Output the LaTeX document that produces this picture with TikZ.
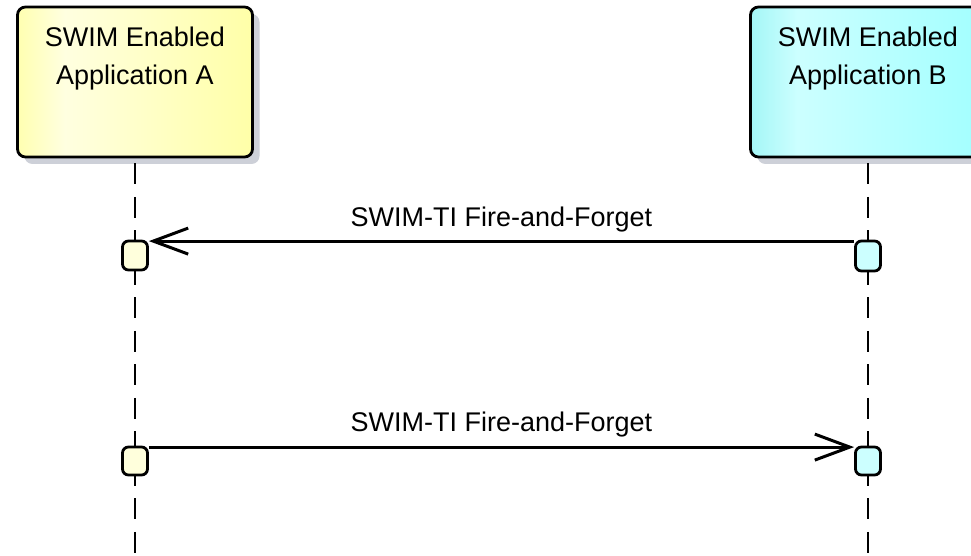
\documentclass[tikz,border=0pt]{standalone}
\usepackage{fontspec}
\setmainfont{Liberation Sans}
\usetikzlibrary{arrows.meta,shadows}

\definecolor{yelA}{HTML}{FFFFB0}
\definecolor{yelB}{HTML}{FFFFE0}
\definecolor{yelC}{HTML}{FFFFA8}
\definecolor{cyaA}{HTML}{A4F6F6}
\definecolor{cyaB}{HTML}{CCFFFF}
\definecolor{cyaC}{HTML}{A2FFFF}
\definecolor{actYel}{HTML}{FFFFDC}
\definecolor{actCya}{HTML}{CCFFFF}
\definecolor{shadowgrey}{HTML}{CDD0D8}

% participant fills: saturated edges, pale band near the left
\pgfdeclarehorizontalshading{yelshade}{100bp}{color(0bp)=(yelA); color(25bp)=(yelA); color(35bp)=(yelB); color(75bp)=(yelC); color(100bp)=(yelC)}
\pgfdeclarehorizontalshading{cyashade}{100bp}{color(0bp)=(cyaA); color(25bp)=(cyaA); color(35bp)=(cyaB); color(75bp)=(cyaC); color(100bp)=(cyaC)}

\tikzset{
  participant/.style={rectangle, rounded corners=8pt, draw=black, line width=2.8pt,
    minimum width=235pt, minimum height=150pt, inner sep=0pt,
    drop shadow={shadow xshift=7pt, shadow yshift=-7pt, fill=shadowgrey, opacity=1}},
  ptext/.style={align=center, inner sep=0pt, font=\fontsize{27}{38}\selectfont},
  lifeline/.style={line width=2.5pt, dash pattern=on 21pt off 12.5pt, dash phase=28.5pt},
  activation/.style={rectangle, rounded corners=6pt, draw=black, line width=2.8pt,
    minimum width=25pt, minimum height=29pt, inner sep=0pt},
  msg/.style={line width=3pt, -{Straight Barb[length=35pt, width=26pt]}},
  msglabel/.style={anchor=base, inner sep=0pt, font=\fontsize{27}{32}\selectfont}
}

\begin{document}
\begin{tikzpicture}[x=1pt, y=-1pt]
  \useasboundingbox (0,0) rectangle (971,556);
  \clip (0,0) rectangle (971,556);
  \fill[white] (0,0) rectangle (971,556);

  % participants
  \node[participant, shading=yelshade] (A) at (135,82) {};
  \node[participant, shading=cyashade] (B) at (868,82) {};
  \node[ptext, anchor=north] (Atxt) at (135,27) {SWIM Enabled\\Application A};
  \node[ptext, anchor=north] (Btxt) at (868,27) {SWIM Enabled\\Application B};

  % lifelines
  \coordinate (Aend) at (135,556);
  \coordinate (Bend) at (868,556);
  \draw[lifeline] (A.south) -- (Aend);
  \draw[lifeline] (B.south) -- (Bend);

  % activations
  \node[activation, fill=actYel] (A1) at (135,255.5) {};
  \node[activation, fill=actCya, minimum height=30pt] (B1) at (868,256) {};
  \node[activation, fill=actYel, minimum height=28pt] (A2) at (135,461) {};
  \node[activation, fill=actCya, minimum height=28pt] (B2) at (868,461) {};

  % messages
  \draw[msg] ([yshift=-1.5pt]B1.north west) -- ([yshift=-1.5pt]A1.north east)
    node[msglabel, midway, yshift=15pt] (m1) {SWIM-TI Fire-and-Forget};
  \draw[msg] ([yshift=-1.5pt]A2.north east) -- ([yshift=-1.5pt]B2.north west)
    node[msglabel, midway, yshift=16pt] (m2) {SWIM-TI Fire-and-Forget};
\end{tikzpicture}
\end{document}
